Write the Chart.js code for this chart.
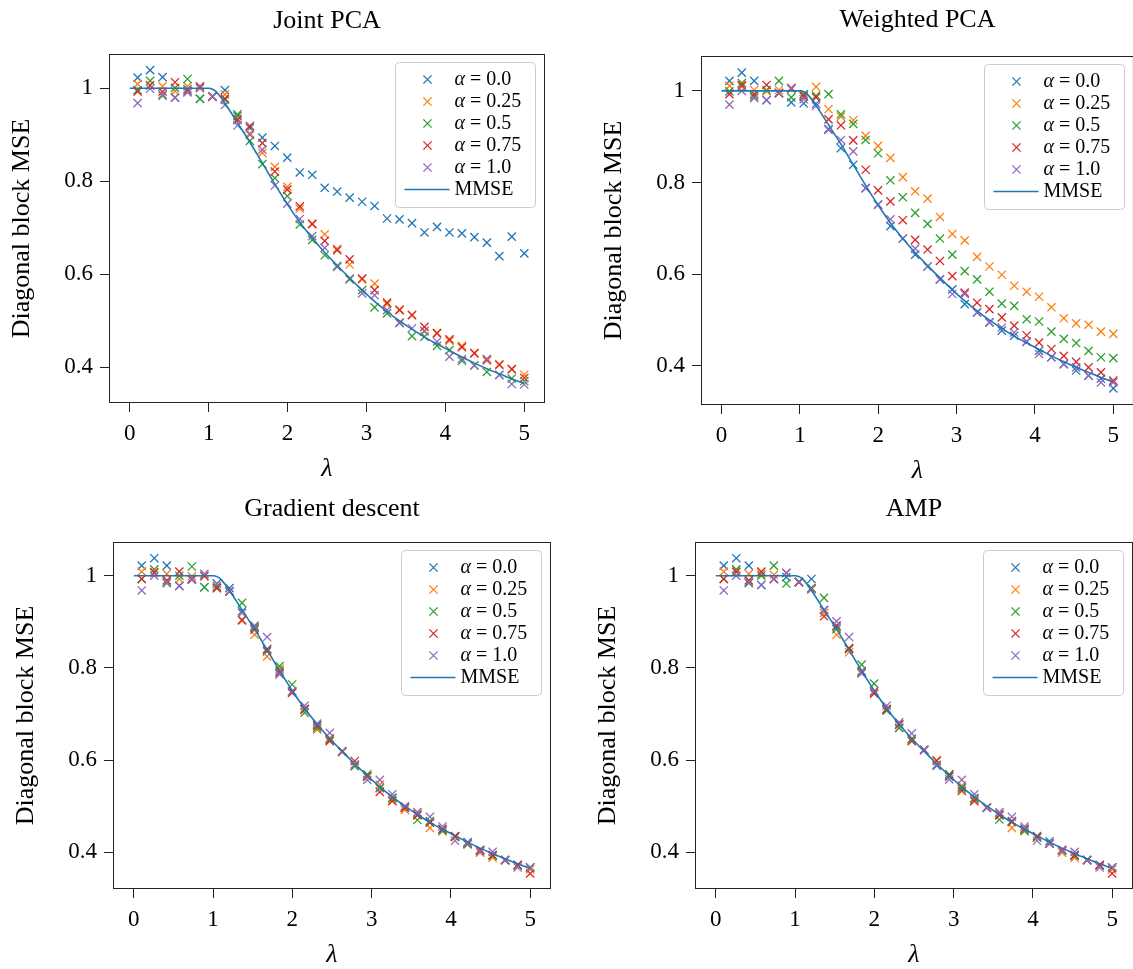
<!DOCTYPE html>
<html>
<head>
<meta charset="utf-8">
<title>Diagonal block MSE</title>
<script src="https://cdn.jsdelivr.net/npm/chart.js@4.4.1/dist/chart.umd.min.js"></script>
<style>
  html, body { margin: 0; padding: 0; background: #fff; overflow: hidden; }
  #page { position: relative; width: 1133px; height: 969px; overflow: hidden; background: #fff; }
  canvas { position: absolute; }
</style>
</head>
<body>
<div id="page">
  <canvas id="jointPca" width="560" height="489" style="left:0px;top:0px;"></canvas>
  <canvas id="weightedPca" width="560" height="491" style="left:580px;top:0px;"></canvas>
  <canvas id="gradDescent" width="560" height="487" style="left:0px;top:488px;"></canvas>
  <canvas id="amp" width="560" height="487" style="left:580px;top:488px;"></canvas>
</div>
<script>
// lambda grid of the simulations (32 points from 0.1 to 5)
const lambdas = [0.1, 0.258, 0.416, 0.574, 0.732, 0.890, 1.048, 1.206, 1.365, 1.523, 1.681, 1.839,
  1.997, 2.155, 2.313, 2.471, 2.629, 2.787, 2.945, 3.103, 3.261, 3.419, 3.577, 3.735,
  3.894, 4.052, 4.210, 4.368, 4.526, 4.684, 4.842, 5.0];

const alphaLabels = ['0.0', '0.25', '0.5', '0.75', '1.0'];
const xTicks = [0, 1, 2, 3, 4, 5];
const yTicks = [0.4, 0.6, 0.8, 1];

// MMSE curve
const mmseX = [0, 0.5, 1.0, 1.05, 1.1, 1.206, 1.365, 1.523, 1.681, 1.839, 1.997, 2.155, 2.313,
  2.471, 2.629, 2.787, 2.945, 3.103, 3.261, 3.419, 3.577, 3.735, 3.894, 4.052, 4.210,
  4.368, 4.526, 4.684, 4.842, 5.0];
const mmseY = [1, 1, 1, 0.998, 0.992, 0.968, 0.926, 0.884, 0.839, 0.794, 0.751, 0.712, 0.678,
  0.647, 0.619, 0.592, 0.566, 0.542, 0.520, 0.500, 0.482, 0.465, 0.450, 0.436, 0.422,
  0.409, 0.397, 0.386, 0.375, 0.365];

// Joint PCA
const jointA0 = [1.023, 1.039, 1.024, 0.980, 0.998, 0.977, 0.982, 0.996, 0.940, 0.915, 0.894, 0.876,
  0.851, 0.819, 0.814, 0.786, 0.778, 0.765, 0.756, 0.747, 0.720, 0.718, 0.710, 0.690,
  0.702, 0.690, 0.688, 0.680, 0.668, 0.639, 0.681, 0.645];
const jointA25 = [1.009, 1.007, 1.004, 0.994, 1.004, 1.000, 0.982, 0.987, 0.935, 0.903, 0.861, 0.831,
  0.788, 0.741, 0.709, 0.686, 0.655, 0.621, 0.589, 0.580, 0.536, 0.524, 0.513, 0.479,
  0.474, 0.457, 0.446, 0.431, 0.414, 0.407, 0.396, 0.384];
const jointA50 = [0.996, 1.016, 0.984, 1.001, 1.020, 0.978, 0.982, 0.975, 0.944, 0.887, 0.837, 0.807,
  0.768, 0.707, 0.674, 0.641, 0.618, 0.589, 0.566, 0.529, 0.516, 0.496, 0.467, 0.466,
  0.446, 0.437, 0.414, 0.404, 0.390, 0.384, 0.376, 0.370];
const jointA75 = [0.993, 1.006, 0.993, 1.013, 0.994, 1.004, 0.982, 0.978, 0.932, 0.919, 0.882, 0.821,
  0.782, 0.746, 0.708, 0.672, 0.652, 0.632, 0.591, 0.566, 0.539, 0.523, 0.512, 0.487,
  0.473, 0.460, 0.443, 0.430, 0.417, 0.405, 0.396, 0.377];
const jointA100 = [0.968, 0.999, 0.987, 0.980, 0.991, 1.001, 0.982, 0.964, 0.920, 0.900, 0.868, 0.791,
  0.752, 0.719, 0.682, 0.657, 0.616, 0.591, 0.559, 0.555, 0.523, 0.495, 0.484, 0.477,
  0.455, 0.423, 0.418, 0.404, 0.418, 0.383, 0.364, 0.363];

// Weighted PCA
const weightedA0 = [1.022, 1.040, 1.022, 0.980, 0.995, 0.975, 0.973, 0.972, 0.917, 0.875, 0.839, 0.788,
  0.752, 0.705, 0.678, 0.643, 0.617, 0.589, 0.567, 0.535, 0.517, 0.495, 0.477, 0.466,
  0.453, 0.433, 0.419, 0.404, 0.390, 0.379, 0.372, 0.351];
const weightedA25 = [1.011, 1.010, 1.002, 0.999, 1.002, 1.004, 0.990, 1.009, 0.960, 0.944, 0.936, 0.902,
  0.880, 0.854, 0.812, 0.781, 0.765, 0.725, 0.688, 0.674, 0.638, 0.617, 0.599, 0.575,
  0.562, 0.551, 0.528, 0.504, 0.493, 0.490, 0.475, 0.470];
const weightedA50 = [0.999, 1.017, 0.988, 1.002, 1.022, 0.986, 0.993, 0.990, 0.993, 0.949, 0.928, 0.893,
  0.864, 0.805, 0.768, 0.734, 0.710, 0.678, 0.643, 0.607, 0.589, 0.562, 0.536, 0.531,
  0.502, 0.497, 0.475, 0.459, 0.450, 0.433, 0.419, 0.417];
const weightedA75 = [0.993, 1.012, 0.993, 1.013, 0.995, 1.006, 0.988, 0.986, 0.938, 0.925, 0.892, 0.828,
  0.783, 0.759, 0.718, 0.675, 0.654, 0.629, 0.596, 0.560, 0.538, 0.524, 0.506, 0.488,
  0.467, 0.451, 0.437, 0.422, 0.409, 0.397, 0.386, 0.368];
const weightedA100 = [0.970, 1.000, 0.984, 0.980, 0.996, 1.006, 0.982, 0.967, 0.915, 0.893, 0.868, 0.788,
  0.752, 0.720, 0.678, 0.656, 0.617, 0.589, 0.557, 0.557, 0.517, 0.495, 0.484, 0.473,
  0.453, 0.426, 0.419, 0.404, 0.397, 0.379, 0.364, 0.364];

// Gradient descent
const gradA0 = [1.022, 1.038, 1.022, 0.978, 0.993, 0.975, 0.983, 0.973, 0.923, 0.889, 0.836, 0.793,
  0.749, 0.711, 0.677, 0.645, 0.619, 0.588, 0.564, 0.539, 0.518, 0.497, 0.482, 0.466,
  0.451, 0.434, 0.422, 0.405, 0.394, 0.383, 0.372, 0.367];
const gradA25 = [1.009, 1.006, 1.004, 0.993, 0.999, 1.000, 0.973, 0.966, 0.905, 0.872, 0.825, 0.798,
  0.746, 0.709, 0.666, 0.648, 0.617, 0.588, 0.564, 0.547, 0.514, 0.492, 0.484, 0.453,
  0.449, 0.433, 0.419, 0.399, 0.388, 0.383, 0.372, 0.363];
const gradA50 = [0.993, 1.014, 0.984, 1.000, 1.020, 0.975, 0.977, 0.966, 0.941, 0.887, 0.841, 0.804,
  0.764, 0.703, 0.670, 0.645, 0.619, 0.587, 0.569, 0.540, 0.518, 0.497, 0.470, 0.468,
  0.446, 0.434, 0.417, 0.403, 0.392, 0.383, 0.372, 0.367];
const gradA75 = [0.993, 1.008, 0.990, 1.009, 0.993, 0.999, 0.973, 0.966, 0.903, 0.883, 0.840, 0.789,
  0.746, 0.710, 0.674, 0.641, 0.619, 0.598, 0.565, 0.531, 0.511, 0.497, 0.480, 0.464,
  0.450, 0.435, 0.419, 0.405, 0.394, 0.383, 0.372, 0.354];
const gradA100 = [0.968, 1.000, 0.986, 0.978, 0.991, 1.004, 0.983, 0.966, 0.919, 0.892, 0.867, 0.786,
  0.749, 0.718, 0.679, 0.659, 0.619, 0.591, 0.557, 0.557, 0.526, 0.500, 0.487, 0.477,
  0.456, 0.425, 0.420, 0.402, 0.401, 0.383, 0.367, 0.367];

// AMP
const ampA0 = [1.022, 1.038, 1.022, 0.980, 0.993, 0.997, 0.986, 0.993, 0.925, 0.889, 0.841, 0.793,
  0.749, 0.711, 0.677, 0.646, 0.622, 0.588, 0.564, 0.541, 0.516, 0.497, 0.482, 0.468,
  0.451, 0.432, 0.424, 0.405, 0.394, 0.383, 0.372, 0.367];
const ampA25 = [1.009, 1.011, 1.004, 1.004, 1.002, 1.006, 0.986, 0.973, 0.919, 0.872, 0.834, 0.791,
  0.747, 0.709, 0.670, 0.646, 0.622, 0.600, 0.569, 0.545, 0.514, 0.497, 0.484, 0.453,
  0.449, 0.432, 0.419, 0.399, 0.388, 0.383, 0.372, 0.363];
const ampA50 = [0.993, 1.014, 0.984, 1.000, 1.022, 0.983, 0.986, 0.973, 0.952, 0.884, 0.841, 0.807,
  0.766, 0.707, 0.670, 0.645, 0.622, 0.590, 0.569, 0.538, 0.518, 0.497, 0.471, 0.466,
  0.446, 0.432, 0.419, 0.403, 0.392, 0.383, 0.372, 0.367];
const ampA75 = [0.993, 1.008, 0.990, 1.009, 0.993, 1.006, 0.986, 0.971, 0.912, 0.892, 0.843, 0.789,
  0.744, 0.710, 0.677, 0.641, 0.622, 0.598, 0.566, 0.533, 0.511, 0.497, 0.480, 0.466,
  0.451, 0.435, 0.419, 0.405, 0.394, 0.383, 0.372, 0.354];
const ampA100 = [0.968, 1.000, 0.986, 0.980, 0.993, 1.006, 0.986, 0.971, 0.926, 0.901, 0.867, 0.788,
  0.749, 0.718, 0.682, 0.658, 0.622, 0.588, 0.558, 0.557, 0.526, 0.497, 0.487, 0.477,
  0.456, 0.425, 0.419, 0.403, 0.401, 0.383, 0.367, 0.367];

const colors = ['#1f77b4', '#ff7f0e', '#2ca02c', '#d62728', '#9467bd'];
const serif = "'Liberation Serif', 'Times New Roman', serif";

Chart.defaults.font.family = serif;
Chart.defaults.color = '#000';

function drawCross(ctx, x, y, r, color) {
    const d = r * Math.SQRT1_2;
    ctx.strokeStyle = color;
    ctx.lineWidth = 1.3;
    ctx.beginPath();
    ctx.moveTo(x - d, y - d);
    ctx.lineTo(x + d, y + d);
    ctx.moveTo(x - d, y + d);
    ctx.lineTo(x + d, y - d);
    ctx.stroke();
}

// box round the axes (matplotlib spines)
const framePlugin = {
    id: 'frame',
    afterDatasetsDraw(chart) {
        const a = chart.chartArea;
        const ctx = chart.ctx;
        ctx.save();
        ctx.strokeStyle = '#222';
        ctx.lineWidth = 1;
        ctx.strokeRect(a.left - 0.5, a.top - 0.5, a.right - a.left + 1, a.bottom - a.top + 1);
        ctx.restore();
    }
};

// legend drawn inside the axes, upper right
const insetLegend = {
    id: 'insetLegend',
    afterDatasetsDraw(chart) {
        const a = chart.chartArea;
        const ctx = chart.ctx;
        const w = 140, h = 145, r = 4;
        const x0 = Math.round(a.right - 9 - w) + 0.5;
        const y0 = Math.round(a.top + 7) + 0.5;
        ctx.save();
        ctx.beginPath();
        ctx.moveTo(x0 + r, y0);
        ctx.lineTo(x0 + w - r, y0);
        ctx.arcTo(x0 + w, y0, x0 + w, y0 + r, r);
        ctx.lineTo(x0 + w, y0 + h - r);
        ctx.arcTo(x0 + w, y0 + h, x0 + w - r, y0 + h, r);
        ctx.lineTo(x0 + r, y0 + h);
        ctx.arcTo(x0, y0 + h, x0, y0 + h - r, r);
        ctx.lineTo(x0, y0 + r);
        ctx.arcTo(x0, y0, x0 + r, y0, r);
        ctx.closePath();
        ctx.fillStyle = 'rgba(255,255,255,0.8)';
        ctx.fill();
        ctx.strokeStyle = '#cccccc';
        ctx.lineWidth = 1;
        ctx.stroke();

        ctx.textBaseline = 'middle';
        ctx.textAlign = 'left';
        ctx.fillStyle = '#000';
        chart.data.datasets.forEach(function(ds, i) {
            const cy = y0 + 17 + 22 * i;
            const tx = x0 + 59;
            if (ds.showLine) {
                ctx.strokeStyle = ds.borderColor;
                ctx.lineWidth = 1.6;
                ctx.beginPath();
                ctx.moveTo(x0 + 9, cy);
                ctx.lineTo(x0 + 54, cy);
                ctx.stroke();
                ctx.font = '20px ' + serif;
                ctx.fillText(ds.label, tx, cy);
            } else {
                drawCross(ctx, x0 + 32, cy, 5.8, ds.borderColor);
                ctx.font = 'italic 20px ' + serif;
                ctx.fillText('α', tx, cy);
                const wa = ctx.measureText('α').width;
                ctx.font = '20px ' + serif;
                ctx.fillText(' = ' + ds.alphaText, tx + wa, cy);
            }
        });
        ctx.restore();
    }
};

function makePanel(canvasId, title, series, yMin, yMax, geo) {
    const datasets = series.map(function(values, i) {
        return {
            label: 'α = ' + alphaLabels[i],
            alphaText: alphaLabels[i],
            data: lambdas.map((x, k) => ({ x: x, y: values[k] })),
            showLine: false,
            pointStyle: 'crossRot',
            pointRadius: 5.8,
            pointBorderWidth: 1.3,
            borderColor: colors[i],
            backgroundColor: colors[i],
            order: 5 - i
        };
    });
    datasets.push({
        label: 'MMSE',
        data: mmseX.map((x, k) => ({ x: x, y: mmseY[k] })),
        showLine: true,
        pointRadius: 0,
        borderColor: '#1f77b4',
        borderWidth: 1.6,
        cubicInterpolationMode: 'monotone',
        order: 0
    });

    return new Chart(document.getElementById(canvasId), {
        type: 'scatter',
        data: { datasets: datasets },
        options: {
            responsive: false,
            animation: false,
            events: [],
            devicePixelRatio: 1,
            layout: { padding: { left: 0, right: geo.padRight, top: 0, bottom: 0 } },
            plugins: {
                legend: { display: false },
                tooltip: { enabled: false },
                title: {
                    display: true,
                    text: title,
                    fullSize: false,
                    color: '#000',
                    font: { size: 26, family: serif, weight: 'normal', lineHeight: 1.2 },
                    padding: { top: geo.titleTop, bottom: geo.titleBottom }
                }
            },
            scales: {
                x: {
                    type: 'linear',
                    min: -0.25,
                    max: 5.25,
                    afterBuildTicks: function(scale) {
                        scale.ticks = xTicks.map(v => ({ value: v }));
                    },
                    afterFit: function(scale) { scale.height = 87; },
                    ticks: {
                        color: '#000',
                        font: { size: 23, family: serif },
                        padding: 8,
                        maxRotation: 0,
                        callback: v => String(v)
                    },
                    grid: {
                        display: true,
                        drawOnChartArea: false,
                        drawTicks: true,
                        tickLength: 10,
                        color: '#222'
                    },
                    border: { display: false },
                    title: {
                        display: true,
                        text: 'λ',
                        color: '#000',
                        font: { size: 26, family: serif, style: 'italic' },
                        padding: { top: 0, bottom: 4 }
                    }
                },
                y: {
                    type: 'linear',
                    min: yMin,
                    max: yMax,
                    afterBuildTicks: function(scale) {
                        scale.ticks = yTicks.map(v => ({ value: v }));
                    },
                    afterFit: function(scale) { scale.width = geo.yWidth; },
                    ticks: {
                        color: '#000',
                        font: { size: 23, family: serif },
                        padding: 7,
                        callback: v => (v === 1 ? '1' : v.toFixed(1))
                    },
                    grid: {
                        display: true,
                        drawOnChartArea: false,
                        drawTicks: true,
                        tickLength: 10,
                        color: '#222'
                    },
                    border: { display: false },
                    title: {
                        display: true,
                        text: 'Diagonal block MSE',
                        color: '#000',
                        font: { size: 26, family: serif },
                        padding: { top: geo.yTitlePad, bottom: 0 }
                    }
                }
            }
        },
        plugins: [framePlugin, insetLegend]
    });
}

// title box: 6 + 26*1.2 + bottom = distance from canvas top to the axes
makePanel('jointPca', 'Joint PCA',
    [jointA0, jointA25, jointA50, jointA75, jointA100], 0.3254, 1.0716,
    { yWidth: 110, padRight: 16, titleTop: 6, titleBottom: 17.8, yTitlePad: 7 });

makePanel('weightedPca', 'Weighted PCA',
    [weightedA0, weightedA25, weightedA50, weightedA75, weightedA100], 0.317, 1.074,
    { yWidth: 122, padRight: 4, titleTop: 5, titleBottom: 20.8, yTitlePad: 19 });

makePanel('gradDescent', 'Gradient descent',
    [gradA0, gradA25, gradA50, gradA75, gradA100], 0.3225, 1.071,
    { yWidth: 114, padRight: 10, titleTop: 6, titleBottom: 17.8, yTitlePad: 11 });

makePanel('amp', 'AMP',
    [ampA0, ampA25, ampA50, ampA75, ampA100], 0.3225, 1.071,
    { yWidth: 116, padRight: 8, titleTop: 6, titleBottom: 17.8, yTitlePad: 13 });
</script>
</body>
</html>
